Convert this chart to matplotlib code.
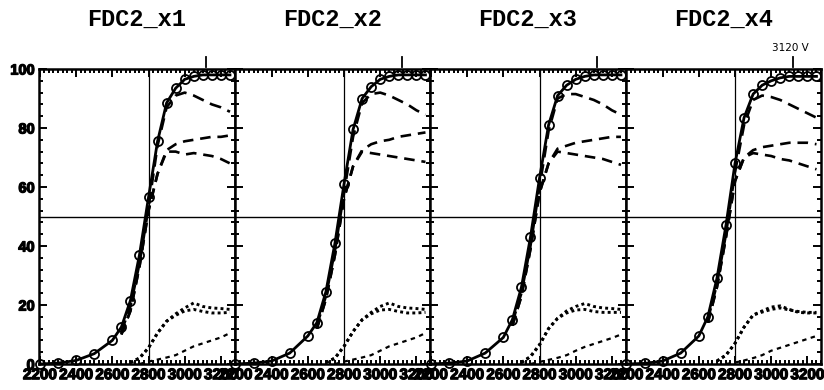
import matplotlib
matplotlib.use("Agg")
import matplotlib.pyplot as plt
import matplotlib.patheffects as pe
from matplotlib.font_manager import FontProperties
from matplotlib.ticker import MultipleLocator

# ---- data -------------------------------------------------------------
titles = ["FDC2_x1", "FDC2_x2", "FDC2_x3", "FDC2_x4"]

hv = [2200, 2300, 2400, 2500, 2600, 2650, 2700, 2750, 2800,
      2850, 2900, 2950, 3000, 3050, 3100, 3150, 3200, 3250]
efficiency = [
    [0, 0.3, 1.2, 3.5, 8, 12.5, 21.5, 37, 56.5, 75.5, 88.5, 93.5, 96.5, 97.5, 98, 98, 98, 98],
    [0, 0.3, 1.0, 3.7, 9.5, 14, 24.5, 41, 61, 79.5, 90, 94, 96.5, 97.5, 98, 98, 98, 98],
    [0, 0.3, 1.0, 3.7, 9, 15, 26, 43, 63, 81, 91, 94.5, 96.5, 97.5, 98, 98, 98, 98],
    [0, 0.2, 1.0, 3.7, 9.5, 16, 29, 47, 68, 83.5, 91.5, 94.5, 96, 97, 97.5, 97.5, 97.5, 97.5],
]

hv_mid = [2650, 2700, 2750, 2800, 2850, 2900, 2950, 3000, 3050, 3100, 3150, 3200, 3250]
single_hit = [
    [11, 19.5, 34, 53, 74, 87, 91, 92, 91, 89.5, 88, 87, 85.5],
    [13, 23, 38.5, 58, 77, 88.5, 91.5, 92, 91, 89.5, 88, 86, 84.5],
    [14, 24, 40, 60, 79, 90, 91.5, 91.5, 90.5, 89.5, 88, 86, 84.5],
    [15, 27, 44, 65, 81, 89.5, 91, 90.5, 89.5, 88, 86.5, 85, 83.5],
]
tight_a = [
    [10, 18, 33, 52, 64.5, 72.5, 74.5, 75.5, 76, 76.5, 77, 77, 77.5],
    [12, 22, 37, 56, 67, 72.5, 74.5, 75.5, 76, 77, 77.5, 78, 78.5],
    [13, 23, 39, 58, 68, 73, 74, 75, 75.5, 76, 76.5, 77, 77],
    [14, 26, 43, 62, 70, 72.5, 73.5, 74, 74.5, 75, 75, 75, 74.5],
]
tight_b = [
    [10, 18, 33, 52, 64.5, 72, 72, 71, 71.5, 71, 70.5, 69.5, 68],
    [12, 22, 37, 56, 67, 72, 71.5, 71, 70.5, 70, 69.5, 69, 68.5],
    [13, 23, 39, 58, 68, 72, 71.5, 71, 70.5, 70, 69.5, 68.5, 67.5],
    [14, 26, 43, 62, 70, 71.5, 71, 70.5, 69.5, 69, 68, 67, 66],
]

hv_hi = [2700, 2750, 2800, 2850, 2900, 2950, 3000, 3050, 3100, 3150, 3200, 3250]
multi_a = [
    [0.5, 2, 5.5, 10.5, 14.5, 17, 19, 20.7, 19.5, 19, 18.8, 18.5],
    [0.5, 2, 6, 11, 15, 17.5, 19.5, 20.7, 19.5, 19, 18.8, 18.5],
    [0.5, 2.5, 6.5, 12, 15.5, 18, 19.5, 20.5, 19.5, 19, 18.8, 18.5],
    [1, 3, 7, 12.5, 16.6, 18, 19.3, 19.7, 18.5, 17.5, 17.3, 17.3],
]
multi_b = [
    [0.5, 2, 5.5, 10.5, 14.5, 16.5, 18, 18.5, 17.8, 17.3, 17.3, 17.5],
    [0.5, 2, 6, 11, 15, 17, 18.3, 18.5, 17.8, 17.3, 17.3, 17.5],
    [0.5, 2.5, 6.5, 12, 15.5, 17.3, 18.3, 18.5, 17.8, 17.5, 17.5, 17.5],
    [1, 3, 7, 12.5, 16.6, 17.6, 18.5, 19, 18.3, 17.8, 17.5, 17.5],
]

hv_noise = [2750, 2800, 2850, 2900, 2950, 3000, 3050, 3100, 3150, 3200, 3250]
noise = [
    [0, 0.8, 1.5, 2.2, 3, 4.5, 6, 7, 8, 9, 10.5],
    [0, 0.8, 1.5, 2.2, 3, 4.5, 6, 7, 8, 9, 10.5],
    [0, 0.7, 1.4, 2.1, 3, 4.5, 5.8, 6.8, 7.8, 8.8, 10],
    [0, 0.5, 1.2, 2.0, 3, 4.5, 5.5, 6.5, 7.5, 8.5, 9.5],
]

x_ticks = [2200, 2400, 2600, 2800, 3000, 3200]
y_ticks = [0, 20, 40, 60, 80, 100]
plateau_mark = 3120
plateau_note = "3120 V"

# ---- layout -----------------------------------------------------------
W, H = 824, 390
fig = plt.figure(figsize=(W / 100, H / 100), dpi=100)
fig.patch.set_facecolor("white")

left0, right_end = 39, 821
pan_w = (right_end - left0) / 4
top_px, bot_px = 69, 364

heavy = [pe.withStroke(linewidth=0.9, foreground="black")]

for i in range(4):
    ax = fig.add_axes([(left0 + i * pan_w) / W, (H - bot_px) / H,
                       pan_w / W, (bot_px - top_px) / H])
    ax.set_xlim(2195, 3275)
    ax.set_ylim(0, 100)

    ax.axvline(2800, color="black", lw=0.9, zorder=1)
    ax.axhline(50, color="black", lw=1.0, zorder=1)

    ax.plot(hv_hi, multi_a[i], color="black", lw=2.1, dashes=(1.0, 1.1), zorder=2)
    ax.plot(hv_hi, multi_b[i], color="black", lw=2.1, dashes=(1.0, 1.1), zorder=2)
    ax.plot(hv_noise, noise[i], color="black", lw=1.6, dashes=(2.0, 2.0), zorder=2)
    ax.plot(hv_mid, tight_a[i], color="black", lw=1.9, dashes=(4.0, 2.6), zorder=2)
    ax.plot(hv_mid, tight_b[i], color="black", lw=1.9, dashes=(4.0, 2.6), zorder=2)
    ax.plot(hv_mid, single_hit[i], color="black", lw=1.9, dashes=(4.5, 2.6), zorder=2)
    ax.plot(hv, efficiency[i], color="black", lw=2.0, marker="o", ms=6.5,
            mfc="none", mec="black", mew=1.3, zorder=3, clip_on=False)

    # operating-point mark above the frame
    ax.plot([plateau_mark, plateau_mark], [100.8, 104.0], color="black",
            lw=1.3, clip_on=False)

    for s in ax.spines.values():
        s.set_linewidth(1.8)

    ax.set_xticks(x_ticks)
    ax.xaxis.set_minor_locator(MultipleLocator(25))
    ax.set_yticks(y_ticks)
    ax.yaxis.set_minor_locator(MultipleLocator(4))
    ax.tick_params(which="both", direction="in", top=True, right=True,
                   bottom=True, left=True, width=1.4, colors="black")
    ax.tick_params(which="major", length=6)
    ax.tick_params(which="minor", length=3)
    ax.tick_params(axis="x", pad=3)
    ax.tick_params(axis="y", pad=3)

    for lab in ax.get_xticklabels():
        lab.set_fontproperties(FontProperties(family="Liberation Sans",
                                              weight="bold", size=11))
        lab.set_path_effects(heavy)
    if i == 0:
        for lab in ax.get_yticklabels():
            lab.set_fontproperties(FontProperties(family="Liberation Sans",
                                                  weight="bold", size=10.5))
            lab.set_path_effects(heavy)
    else:
        ax.set_yticklabels([])

    fig.text((left0 + (i + 0.5) * pan_w) / W, (H - 19) / H, titles[i],
             family="Liberation Mono", weight="bold", fontsize=17,
             ha="center", va="center")

    if i == 3:
        ax.text(plateau_mark - 15, 107, plateau_note, ha="center", va="center",
                fontsize=7.5, family="DejaVu Sans", clip_on=False)

fig.savefig("out.png", dpi=100, facecolor="white")
